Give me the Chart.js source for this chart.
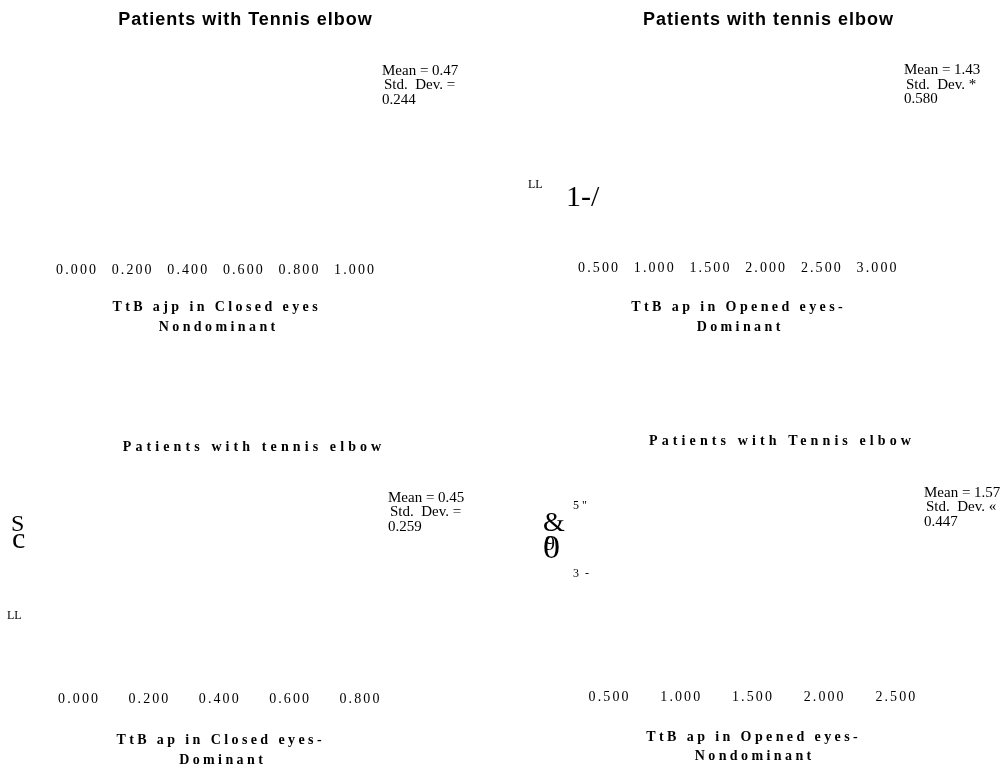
<!DOCTYPE html>
<html>
<head>
<meta charset="utf-8">
<script src="https://cdn.jsdelivr.net/npm/chart.js@4.4.1/dist/chart.umd.min.js"></script>
<style>
  html, body { margin: 0; padding: 0; background: #ffffff; }
  #wrap { position: relative; width: 1005px; height: 770px; overflow: hidden; background: #ffffff; }
  #wrap canvas { position: absolute; }
</style>
</head>
<body>
<div id="wrap">
  <canvas id="panel0" width="502" height="385" style="left:0px;top:0px"></canvas>
  <canvas id="panel1" width="503" height="385" style="left:502px;top:0px"></canvas>
  <canvas id="panel2" width="502" height="385" style="left:0px;top:385px"></canvas>
  <canvas id="panel3" width="503" height="385" style="left:502px;top:385px"></canvas>
</div>
<script>
// ---- values of the four histogram panels ----
const panelTitles = [
  'Patients with Tennis elbow',
  'Patients with tennis elbow',
  'Patients with tennis elbow',
  'Patients with Tennis elbow'
];
const axisTitleLines = [
  ['TtB ajp in Closed eyes', 'Nondominant'],
  ['TtB ap in Opened eyes-', 'Dominant'],
  ['TtB ap in Closed eyes-', 'Dominant'],
  ['TtB ap in Opened eyes-', 'Nondominant']
];
const meanValues = [0.47, 1.43, 0.45, 1.57];
const stdDevValues = [0.244, 0.580, 0.259, 0.447];
const stdDevSigns = ['=', '*', '=', '\u00AB'];

const ticksClosedNondominant = [0.0, 0.2, 0.4, 0.6, 0.8, 1.0];
const ticksOpenedDominant = [0.5, 1.0, 1.5, 2.0, 2.5, 3.0];
const ticksClosedDominant = [0.0, 0.2, 0.4, 0.6, 0.8];
const ticksOpenedNondominant = [0.5, 1.0, 1.5, 2.0, 2.5];
const panelTicks = [ticksClosedNondominant, ticksOpenedDominant, ticksClosedDominant, ticksOpenedNondominant];

// y-axis label fragments left on the frequency axes
const axisFragments = [
  [],
  ['LL', '1-/'],
  ['S', 'c', 'LL'],
  ['5"', '&', '0', '9', '3 -']
];

// ---- layout and styling (page coordinates) ----
const SERIF = '"Liberation Serif", "Times New Roman", serif';
const SANS = '"Liberation Sans", Arial, sans-serif';
const TICK_SPACING = 2.1;

const panelLayout = [
  {
    origin: [0, 0],
    padding: { left: 77.1, right: 146.9, top: 40, bottom: 103.3 },
    title: { x: 245, y: 20, font: 'bold 18px ' + SANS, ls: 1 },
    stats: { x: 382, y: 71 },
    axisTitle: [[215, 307.5], [217, 327.5]],
    fragments: []
  },
  {
    origin: [502, 0],
    padding: { left: 97.1, right: 127.4, top: 40, bottom: 104.8 },
    title: { x: 768, y: 20, font: 'bold 18px ' + SANS, ls: 1 },
    stats: { x: 904, y: 70.5 },
    axisTitle: [[737, 307], [738.5, 327]],
    fragments: [
      { x: 528, y: 185, size: 12, ls: 0 },
      { x: 566, y: 198, size: 30, ls: 0 }
    ]
  },
  {
    origin: [0, 385],
    padding: { left: 79.1, right: 141.5, top: 40, bottom: 58.8 },
    title: { x: 252, y: 447, font: 'bold 14px ' + SERIF, ls: 4.1 },
    stats: { x: 388, y: 498 },
    axisTitle: [[219, 740], [221, 760]],
    fragments: [
      { x: 11, y: 525, size: 24, ls: 0 },
      { x: 12, y: 540, size: 30, ls: 0 },
      { x: 7, y: 616, size: 12, ls: 0 }
    ]
  },
  {
    origin: [502, 385],
    padding: { left: 107.6, right: 108.6, top: 40, bottom: 60.8 },
    title: { x: 780, y: 441.5, font: 'bold 14px ' + SERIF, ls: 4.1 },
    stats: { x: 924, y: 493 },
    axisTitle: [[752, 737], [753, 756]],
    fragments: [
      { x: 573, y: 506, size: 12, ls: 3 },
      { x: 543, y: 524, size: 28, ls: 0 },
      { x: 543, y: 549, size: 34, ls: 0 },
      { x: 545, y: 545, size: 20, ls: 0 },
      { x: 573, y: 574, size: 12, ls: 1.5 }
    ]
  }
];

function drawLabel(ctx, text, x, y, font, align, ls) {
  ctx.save();
  ctx.font = font;
  ctx.letterSpacing = (ls || 0) + 'px';
  ctx.fillStyle = '#000000';
  ctx.textAlign = align;
  ctx.textBaseline = 'middle';
  // centred text carries a trailing letter gap; shift back by half of it
  const dx = align === 'center' ? (ls || 0) / 2 : 0;
  ctx.fillText(text, x + dx, y);
  ctx.restore();
}

const panelTextPlugin = {
  id: 'panelText',
  beforeDraw(chart) {
    chart.ctx.letterSpacing = TICK_SPACING + 'px';
  },
  afterDraw(chart, args, opts) {
    const i = opts.index;
    const L = panelLayout[i];
    const ox = L.origin[0], oy = L.origin[1];
    const ctx = chart.ctx;

    drawLabel(ctx, panelTitles[i], L.title.x - ox, L.title.y - oy, L.title.font, 'center', L.title.ls);

    const statFont = '15px ' + SERIF;
    const sx = L.stats.x - ox, sy = L.stats.y - oy;
    drawLabel(ctx, 'Mean = ' + meanValues[i].toFixed(2), sx, sy, statFont, 'left', 0);
    drawLabel(ctx, 'Std.  Dev. ' + stdDevSigns[i], sx + 2, sy + 14.5, statFont, 'left', 0);
    drawLabel(ctx, stdDevValues[i].toFixed(3), sx, sy + 29, statFont, 'left', 0);

    const axisFont = 'bold 14px ' + SERIF;
    axisTitleLines[i].forEach((line, k) => {
      const p = L.axisTitle[k];
      drawLabel(ctx, line, p[0] - ox, p[1] - oy, axisFont, 'center', 3.4);
    });

    axisFragments[i].forEach((frag, k) => {
      const f = L.fragments[k];
      drawLabel(ctx, frag, f.x - ox, f.y - oy, f.size + 'px ' + SERIF, 'left', f.ls);
    });
  }
};

function buildPanel(i) {
  const tickValues = panelTicks[i];
  const canvas = document.getElementById('panel' + i);
  return new Chart(canvas, {
    type: 'bar',
    data: { datasets: [] },
    options: {
      responsive: false,
      animation: false,
      devicePixelRatio: 1,
      layout: { padding: panelLayout[i].padding },
      plugins: {
        legend: { display: false },
        tooltip: { enabled: false },
        title: { display: false },
        panelText: { index: i }
      },
      scales: {
        x: {
          type: 'linear',
          offset: false,
          min: tickValues[0],
          max: tickValues[tickValues.length - 1],
          grid: { display: false, offset: false },
          border: { display: false },
          afterBuildTicks: (scale) => {
            scale.ticks = tickValues.map(v => ({ value: v }));
          },
          ticks: {
            color: '#000000',
            font: { family: SERIF, size: 14 },
            padding: 3,
            autoSkip: false,
            maxRotation: 0,
            minRotation: 0,
            callback: (v) => Number(v).toFixed(3)
          }
        },
        y: { display: false, min: 0, max: 1 }
      }
    },
    plugins: [panelTextPlugin]
  });
}

for (let i = 0; i < 4; i++) buildPanel(i);
</script>
</body>
</html>
